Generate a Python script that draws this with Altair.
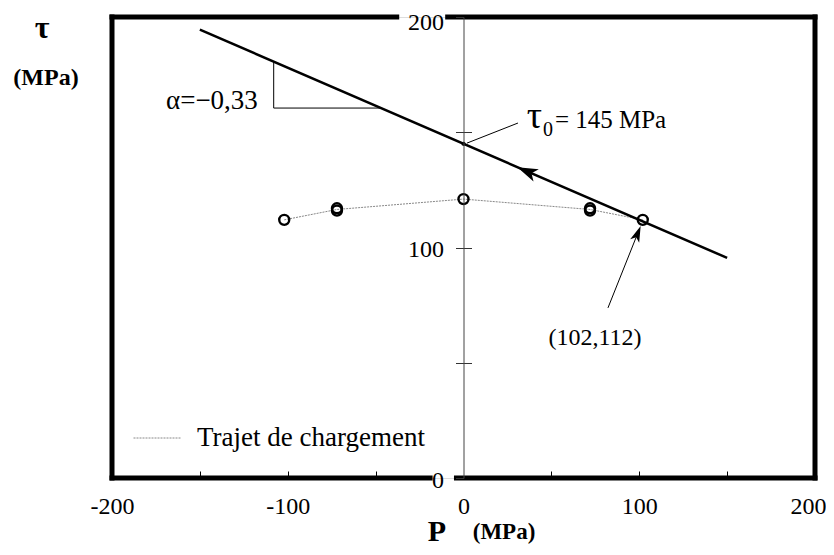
import altair as alt
import pandas as pd

FONT = "Liberation Serif"

# Loading path (Trajet de chargement)
path_p = [-102, -72, 0, 72, 102]
path_tau = [112, 116.5, 121, 116.5, 112]
# Measured points (doubled at +/-72)
pts_p = [-102, -72, -72, 0, 72, 72, 102]
pts_tau = [112, 116, 117, 121, 116, 117, 112]
# Criterion line tau = 145 - 0.33 P
crit_p = [-150, 150]
crit_tau = [194.5, 95.5]
tau0_p, tau0 = 0, 145
# Frame segments (gaps where the 200 and 0 labels sit)
frame_x1 = [-200, -9, -200, -4, -200, 200]
frame_x2 = [-38, 200, -19, 200, -200, 200]
frame_y1 = [200, 200, 0, 0, 0, 0]
frame_y2 = [200, 200, 0, 0, 200, 200]
# Slope triangle
tri_x1 = [-108, -108]
tri_x2 = [-108, -47]
tri_y1 = [180.8, 160.5]
tri_y2 = [160.5, 160.5]
# annotation leaders
lead_x1 = [2, 82.2]
lead_x2 = [31, 99.1]
lead_y1 = [145.3, 73.8]
lead_y2 = [154, 106.1]

xs = alt.Scale(domain=[-200, 200], nice=False, zero=False)
ys = alt.Scale(domain=[0, 200], nice=False, zero=False)

df_path = pd.DataFrame({"p": path_p, "tau": path_tau, "s": ["Trajet de chargement"] * len(path_p)})
df_pts = pd.DataFrame({"p": pts_p, "tau": pts_tau})
df_crit = pd.DataFrame({"p": crit_p, "tau": crit_tau})
df_frame = pd.DataFrame({"x1": frame_x1, "x2": frame_x2, "y1": frame_y1, "y2": frame_y2})
df_tri = pd.DataFrame({"x1": tri_x1, "x2": tri_x2, "y1": tri_y1, "y2": tri_y2})
df_lead = pd.DataFrame({"x1": lead_x1, "x2": lead_x2, "y1": lead_y1, "y2": lead_y2})

frame = alt.Chart(df_frame).mark_rule(color="black", strokeWidth=5, strokeCap="square").encode(
    x=alt.X("x1:Q", scale=xs, axis=None), x2="x2:Q",
    y=alt.Y("y1:Q", scale=ys, axis=None), y2="y2:Q")

path = alt.Chart(df_path).mark_line(strokeWidth=1, strokeDash=[2, 1]).encode(
    x=alt.X("p:Q", scale=xs, axis=alt.Axis(
        orient="bottom", values=[-200, -100, 0, 100, 200], ticks=False, tickSize=0, domain=False,
        grid=False, labelFont=FONT, labelFontSize=24, labelColor="black", labelPadding=16,
        labelFlush=False, labelOverlap=False,
        labelOffset={"condition": {"test": "datum.value == 200", "value": -7}, "value": 0},
        labelExpr="'' + datum.value", title=None, zindex=1)),
    y=alt.Y("tau:Q", scale=ys, axis=alt.Axis(
        orient="left", offset=-351.5, values=[0, 50, 100, 150, 200], tickSize=8, tickColor="#333",
        domainColor="#444", domainWidth=1, grid=False, labelFont=FONT, labelFontSize=24,
        labelColor="black", labelPadding=12, labelFlush=False, labelOverlap=False,
        labelOffset={"condition": {"test": "datum.value == 200", "value": 5}, "value": 2},
        labelExpr="datum.value % 100 == 0 ? datum.label : ''", title=None, zindex=1)),
    color=alt.Color("s:N", scale=alt.Scale(range=["#888888"]), legend=alt.Legend(
        orient="none", legendX=21, legendY=397, title=None, symbolType="stroke",
        symbolSize=2209, symbolStrokeWidth=1, symbolDash=[2, 1], labelFontSize=27, labelFont=FONT,
        labelColor="black", labelOffset=16, labelLimit=500, padding=0)))

pts = alt.Chart(df_pts).mark_point(shape="circle", filled=False, color="black", strokeWidth=2.4, size=100, opacity=1).encode(
    x=alt.X("p:Q", scale=xs, axis=alt.Axis(
        orient="top", offset=-461, values=[-150, -100, -50, 50, 100, 150], tickSize=7,
        tickColor="black", domain=False, labels=False, grid=False, title=None)),
    y=alt.Y("tau:Q", scale=ys, axis=alt.Axis(
        orient="right", offset=-351.5, values=[0, 50, 100, 150, 200], tickSize=8, tickColor="#333",
        domain=False, labels=False, grid=False, title=None)))

crit = alt.Chart(df_crit).mark_line(color="black", strokeWidth=2.5).encode(
    x=alt.X("p:Q", scale=xs, axis=None), y=alt.Y("tau:Q", scale=ys, axis=None))

dot = alt.Chart(pd.DataFrame({"p": [tau0_p], "tau": [tau0]})).mark_point(
    shape="circle", filled=True, color="black", size=18, opacity=1).encode(
    x=alt.X("p:Q", scale=xs, axis=None), y=alt.Y("tau:Q", scale=ys, axis=None))

tri = alt.Chart(df_tri).mark_rule(color="black", strokeWidth=1).encode(
    x=alt.X("x1:Q", scale=xs, axis=None), x2="x2:Q",
    y=alt.Y("y1:Q", scale=ys, axis=None), y2="y2:Q")

lead = alt.Chart(df_lead).mark_rule(color="black", strokeWidth=1).encode(
    x=alt.X("x1:Q", scale=xs, axis=None), x2="x2:Q",
    y=alt.Y("y1:Q", scale=ys, axis=None), y2="y2:Q")

arrow_main = alt.Chart(pd.DataFrame({"p": [36], "tau": [133.1]})).mark_point(
    shape="M -1 0 L 1 -0.65 L 0.5 0 L 1 0.65 Z", filled=True, color="black", size=420, angle=23.4, opacity=1).encode(
    x=alt.X("p:Q", scale=xs, axis=None), y=alt.Y("tau:Q", scale=ys, axis=None))

arrow_ann = alt.Chart(pd.DataFrame({"p": [99.1], "tau": [106.1]})).mark_point(
    shape="M 0 -1 L 0.6 1 L 0 0.5 L -0.6 1 Z", filled=True, color="black", size=260, angle=21.8, opacity=1).encode(
    x=alt.X("p:Q", scale=xs, axis=None), y=alt.Y("tau:Q", scale=ys, axis=None))

def txt(p, tau, s, size, align="left", weight="normal", baseline="alphabetic"):
    return alt.Chart(pd.DataFrame({"p": [p], "tau": [tau], "t": [s]})).mark_text(
        font=FONT, fontSize=size, align=align, baseline=baseline, fontWeight=weight, color="black").encode(
        x=alt.X("p:Q", scale=xs, axis=None), y=alt.Y("tau:Q", scale=ys, axis=None), text="t:N")

t_alpha = txt(-117, 160, "α=−0,33", 27, align="right")
t_tau = txt(36, 151.8, "τ", 38)
t_sub = txt(45.2, 148.5, "0", 20)
t_eq = txt(52.0, 151.8, "= 145 MPa", 25)
t_pt = txt(74.8, 57.5, "(102,112)", 24, align="center")

def ptxt(x, y, s, size, weight="bold"):
    return alt.Chart(pd.DataFrame({"t": [s]})).mark_text(
        font=FONT, fontSize=size, align="center", baseline="alphabetic", fontWeight=weight, color="black").encode(
        x=alt.value(x), y=alt.value(y), text="t:N")

ty1 = ptxt(-70, 21, "τ", 32)
ty2 = ptxt(-66, 68, "(MPa)", 24)
tx1 = ptxt(325, 524, "P", 30)
tx2 = ptxt(392, 522, "(MPa)", 23)

chart = alt.layer(
    frame, path, pts, crit, dot, tri, lead, arrow_main, arrow_ann,
    t_alpha, t_tau, t_sub, t_eq, t_pt, ty1, ty2, tx1, tx2
).resolve_axis(x="independent", y="independent").properties(
    width=703, height=461,
    autosize=alt.AutoSizeParams(type="none"),
    padding={"left": 104, "top": 9, "right": 11, "bottom": 69},
).configure_view(stroke=None).configure(font=FONT, background="white")

chart.save("out.html", embed_options={"renderer": "svg", "actions": False})
